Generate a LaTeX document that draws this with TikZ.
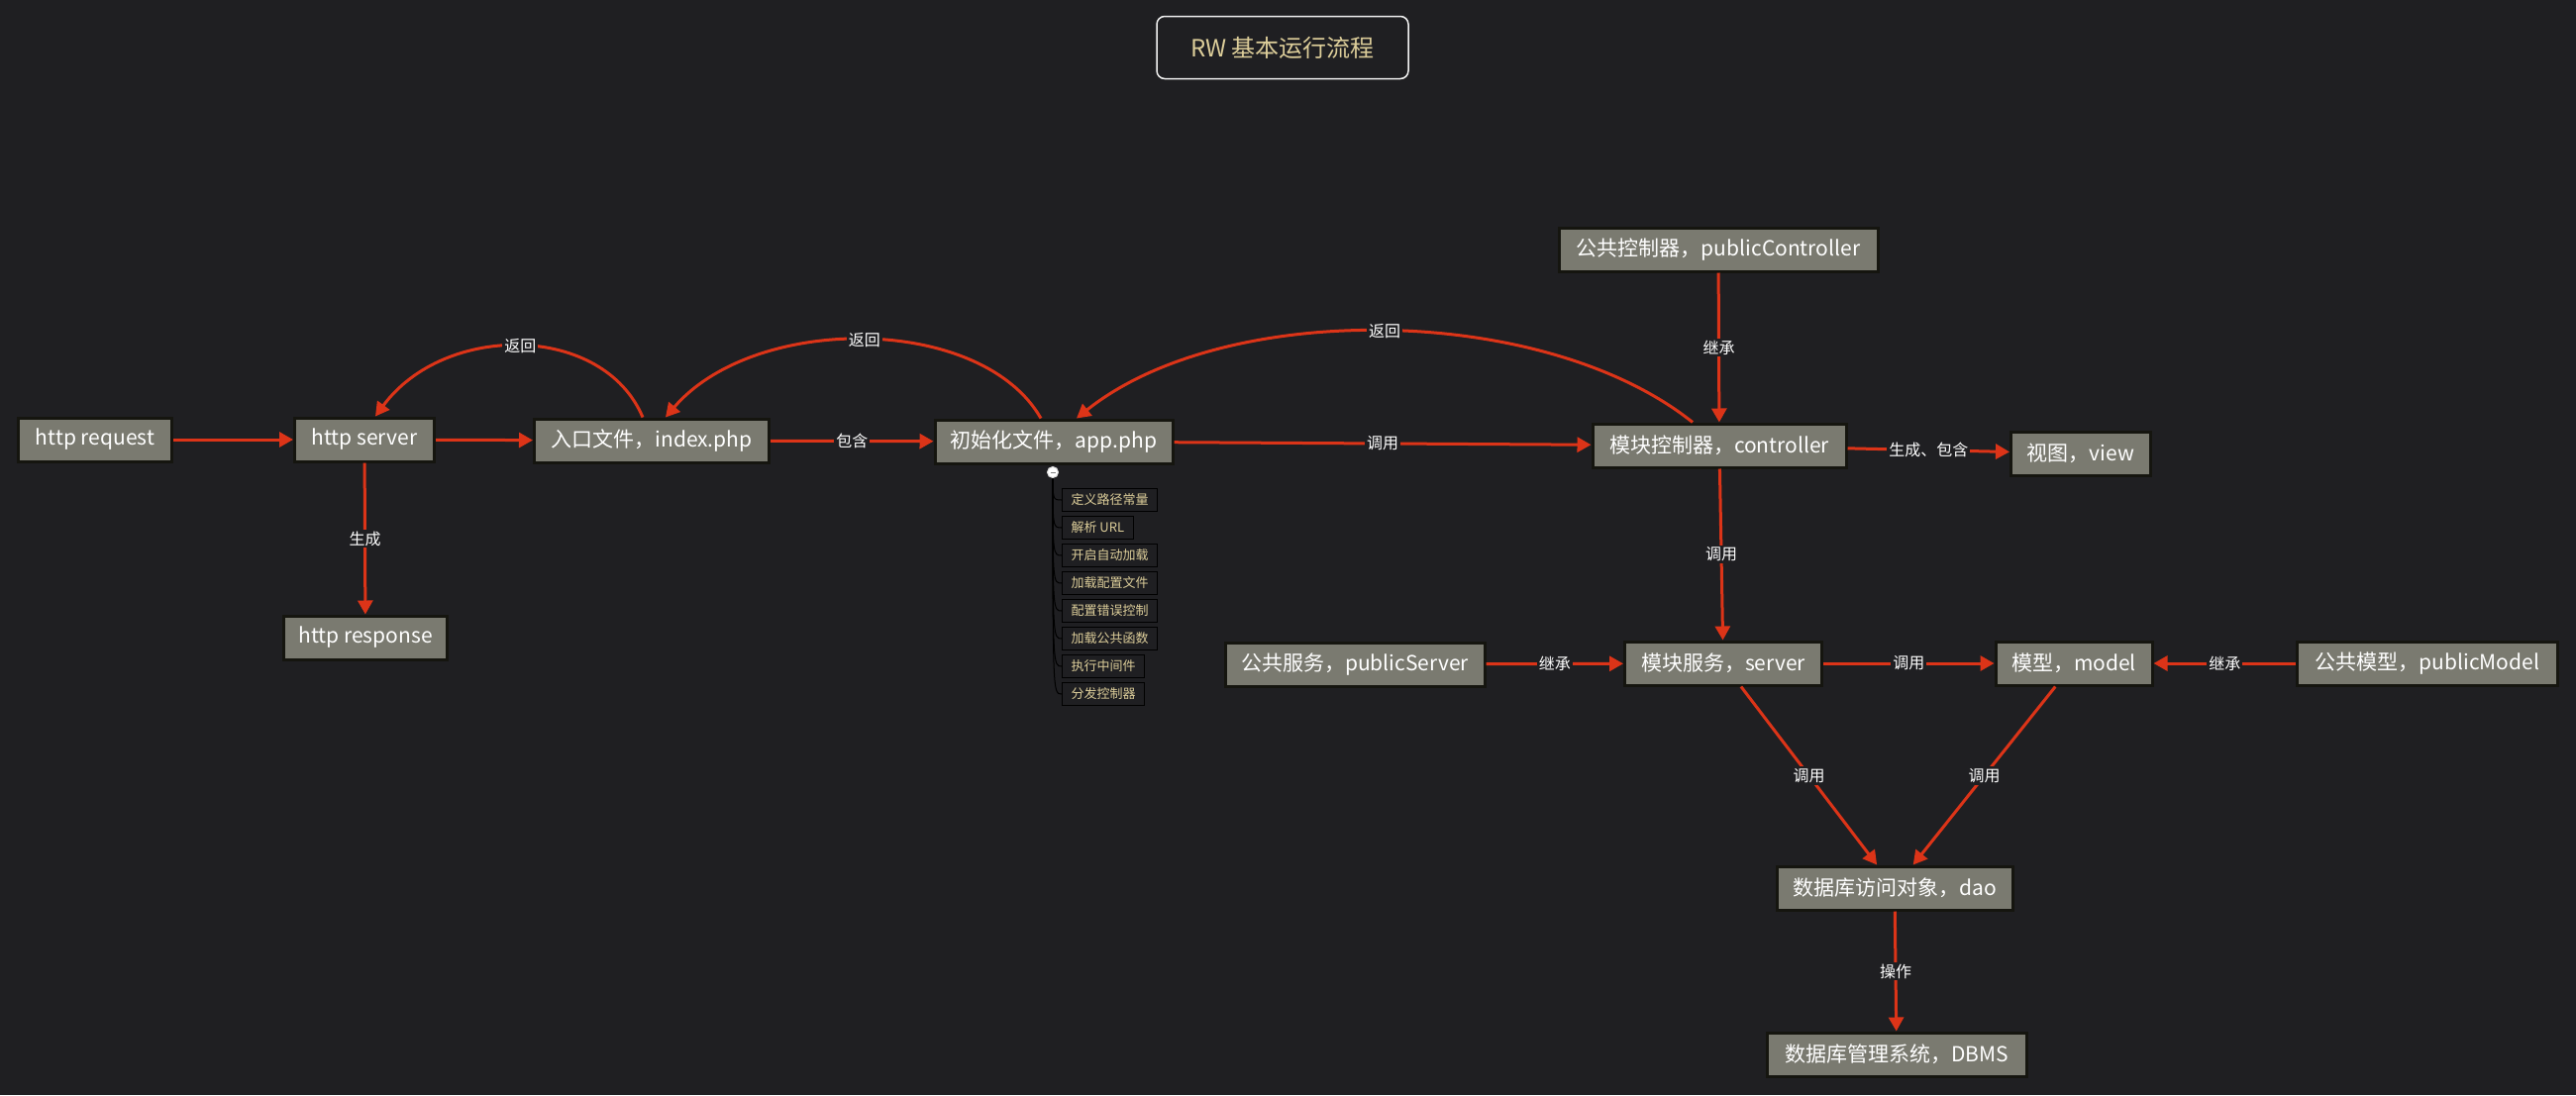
\documentclass[tikz,border=0pt]{standalone}
\usepackage{fontspec}
\setmainfont{Noto Sans CJK SC}
\usetikzlibrary{arrows.meta}
\definecolor{bgdark}{HTML}{1F1F22}
\definecolor{boxfill}{HTML}{7A7A70}
\definecolor{boxline}{HTML}{15150F}
\definecolor{flow}{HTML}{DC3418}
\definecolor{khaki}{HTML}{DDCE9A}
\tikzset{
	box/.style={draw=boxline, line width=3pt, fill=boxfill, text=white, font=\fontsize{21}{25}\selectfont, minimum height=44pt, inner xsep=8pt},
	flowline/.style={draw=flow, line width=3pt, -{Triangle[length=14pt,width=15pt]}},
	lbl/.style={fill=bgdark, text=white, font=\fontsize{16}{19}\selectfont, inner sep=2pt},
	subitem/.style={draw=black, line width=1pt, fill=bgdark, text=khaki, font=\fontsize{13}{15}\selectfont, minimum height=23pt, inner xsep=9pt, anchor=west},
	tree/.style={draw=black, line width=1pt}
}
\begin{document}
\begin{tikzpicture}[x=1pt, y=-1pt]
	\path[use as bounding box, fill=bgdark] (0,0) rectangle (2601,1106);
	\node[draw=white!90!gray, line width=1.5pt, rounded corners=8pt, text=khaki, font=\fontsize{24}{28}\selectfont, minimum width=254pt, minimum height=63pt] (title) at (1295,48) {RW 基本运行流程};
	\node[box, minimum width=155pt] (req) at (96,444) {http request};
	\node[box, minimum width=141pt] (srv) at (368,444) {http server};
	\node[box, minimum width=165pt] (resp) at (369,644) {http response};
	\node[box, minimum width=237pt] (idx) at (658,445) {入口文件，index.php};
	\node[box, minimum width=240pt] (app) at (1064,446) {初始化文件，app.php};
	\node[box, minimum width=322pt] (pubctrl) at (1735,252) {公共控制器，publicController};
	\node[box, minimum width=256pt] (ctrl) at (1736,450) {模块控制器，controller};
	\node[box, minimum width=141pt] (view) at (2101,458) {视图，view};
	\node[box, minimum width=262pt] (pubsvc) at (1368,671) {公共服务，publicServer};
	\node[box, minimum width=199pt] (svc) at (1740,670) {模块服务，server};
	\node[box, minimum width=158pt] (mdl) at (2094,670) {模型，model};
	\node[box, minimum width=263pt] (pubmdl) at (2451,670) {公共模型，publicModel};
	\node[box, minimum width=238pt] (dao) at (1913,897) {数据库访问对象，dao};
	\node[box, minimum width=262pt] (dbms) at (1915,1065) {数据库管理系统，DBMS};
	\foreach \txt [count=\i] in {定义路径常量, 解析 URL, 开启自动加载, 加载配置文件, 配置错误控制, 加载公共函数, 执行中间件, 分发控制器} {
		\node[subitem] (it\i) at (1072,{477+28*\i}) {\txt};
		\draw[tree] (1063,477) .. controls (1063,{477+28*\i}) .. (it\i.west);
	}
	\node[circle, draw=white!75!gray, fill=white, line width=1pt, minimum size=11pt, inner sep=0pt] (fold) at (1063,477) {};
	\draw[gray, line width=0.8pt] ([xshift=-2.5pt]fold.center) -- ([xshift=2.5pt]fold.center);
	\draw[flowline] (req) -- (srv);
	\draw[flowline] (srv) -- (idx);
	\draw[flowline] (srv) -- (resp) node[lbl, midway] {生成};
	\draw[flowline] (idx) -- (app) node[lbl, midway] {包含};
	\draw[flowline] (app) -- (ctrl) node[lbl, midway] {调用};
	\draw[flowline] (pubctrl) -- (ctrl) node[lbl, midway] {继承};
	\draw[flowline] (ctrl) -- (view) node[lbl, midway] {生成、包含};
	\draw[flowline] (ctrl) -- (svc) node[lbl, midway] {调用};
	\draw[flowline] (pubsvc) -- (svc) node[lbl, midway] {继承};
	\draw[flowline] (svc) -- (mdl) node[lbl, midway] {调用};
	\draw[flowline] (pubmdl) -- (mdl) node[lbl, midway] {继承};
	\draw[flowline] (svc) -- (dao) node[lbl, midway] {调用};
	\draw[flowline] (mdl) -- (dao) node[lbl, midway] {调用};
	\draw[flowline] (dao) -- (dbms) node[lbl, midway] {操作};
	\draw[flowline] ([xshift=-9pt]idx.north) .. controls +(-40,-95) and +(70,-95) .. ([xshift=11pt]srv.north) node[lbl, midway] {返回};
	\draw[flowline] ([xshift=-13pt]app.north) .. controls +(-60,-105) and +(90,-105) .. ([xshift=14pt]idx.north) node[lbl, midway] {返回};
	\draw[flowline] ([xshift=-27pt]ctrl.north) .. controls +(-150,-120) and +(150,-120) .. ([xshift=23pt]app.north) node[lbl, midway] {返回};
\end{tikzpicture}
\end{document}
